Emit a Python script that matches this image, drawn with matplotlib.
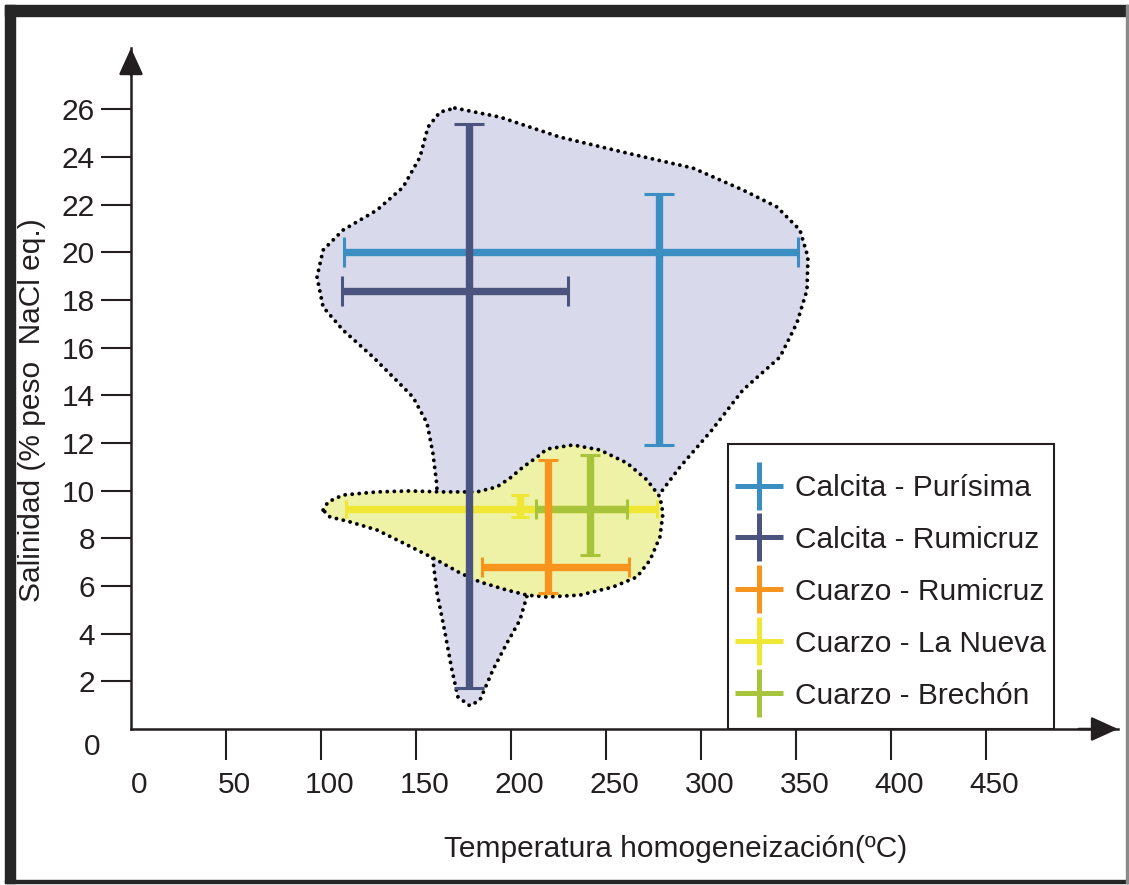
import matplotlib
matplotlib.use('Agg')
import matplotlib.pyplot as plt
from matplotlib.patches import Polygon, Rectangle
from matplotlib.lines import Line2D
from matplotlib.transforms import ScaledTranslation

plt.rcParams['font.family'] = ['Liberation Sans', 'DejaVu Sans']
INK = '#231f20'

# error-bar crosses (Th in C, salinity in % NaCl eq.)
series = ['Calcita - Purísima', 'Calcita - Rumicruz', 'Cuarzo - Rumicruz',
          'Cuarzo - La Nueva', 'Cuarzo - Brechón']
colors = ['#3a8ec2', '#4b547e', '#f7941e', '#f0e634', '#a8c43a']
x_mid = [278, 178, 219.5, 204.5, 241.5]
y_mid = [20.0, 18.4, 6.8, 9.25, 9.25]
x_low = [112, 111, 184.5, 113, 213]
x_high = [351, 230, 262, 277, 261]
y_low = [11.9, 1.7, 5.7, 8.9, 7.3]
y_high = [22.45, 25.4, 11.3, 9.8, 11.5]
caps = [11, 11, 7, 6.5, 7]
layer = [3, 7, 6, 4, 5]

# field outlines
calcite_x = [170.5, 194.2, 225.8, 261.1, 295.8, 322.1, 340.0, 352.1, 356.3, 355.8,
             350.5, 341.6, 322.1, 305.8, 288.9, 267.9, 236.3, 208.9, 204.7, 197.9,
             190.5, 183.7, 178.4, 172.1, 168.9, 165.3, 161.1, 158.9, 158.9, 161.1,
             158.9, 155.8, 148.4, 143.2, 127.4, 111.6, 101.1, 97.9, 101.1, 111.6,
             129.5, 143.2, 152.1, 156.3, 162.6]
calcite_y = [26.06, 25.68, 24.84, 24.17, 23.54, 22.62, 21.91, 20.94, 19.81, 18.42,
             17.04, 15.61, 14.23, 12.55, 10.99, 8.77, 6.67, 5.71, 4.57, 3.61,
             2.48, 1.22, 0.97, 1.34, 2.48, 4.03, 5.71, 7.09, 8.77, 10.16,
             11.58, 12.84, 13.93, 14.35, 15.61, 16.74, 17.71, 18.97, 20.10, 20.94,
             21.78, 22.74, 24.00, 25.26, 25.89]
quartz_x = [101.1, 103.7, 111.6, 129.5, 146.8, 164.2, 182.1, 192.6, 199.5, 206.3,
            213.7, 218.9, 232.6, 246.8, 261.1, 271.6, 278.4, 280.0, 278.4, 273.2,
            266.3, 253.7, 236.3, 218.9, 208.4, 197.9, 183.7, 173.2, 158.9, 143.2,
            129.5, 115.3, 104.7]
quartz_y = [9.19, 9.53, 9.82, 9.95, 9.99, 9.95, 9.95, 10.16, 10.53, 10.99,
            11.41, 11.75, 11.92, 11.71, 11.16, 10.45, 9.74, 9.06, 8.06, 7.09,
            6.38, 5.96, 5.62, 5.54, 5.62, 5.83, 6.17, 6.55, 7.18, 7.81,
            8.35, 8.69, 8.90]

x_ticks = [0, 50, 100, 150, 200, 250, 300, 350, 400, 450]
y_ticks = [2, 4, 6, 8, 10, 12, 14, 16, 18, 20, 22, 24, 26]

W, H = 1129, 885
fig = plt.figure(figsize=(W / 100, H / 100), dpi=100)
ax = fig.add_axes([131 / W, (H - 729) / H, (1118 - 131) / W, (729 - 48) / H])
ax.set_xlim(0, 519.5)
ax.set_ylim(0, 28.58)

# fields
dots = dict(edgecolor='black', linewidth=2.8, linestyle=(0, (0.01, 1.8)), capstyle='round')
ax.add_patch(Polygon(list(zip(calcite_x, calcite_y)), closed=True, facecolor='#d8d9ea', zorder=1, **dots))
ax.add_patch(Polygon(list(zip(quartz_x, quartz_y)), closed=True, facecolor='#eef2a6', zorder=2, **dots))

for i in range(len(series)):
    ax.errorbar(x_mid[i], y_mid[i],
                xerr=[[x_mid[i] - x_low[i]], [x_high[i] - x_mid[i]]],
                yerr=[[y_mid[i] - y_low[i]], [y_high[i] - y_mid[i]]],
                fmt='none', ecolor=colors[i], elinewidth=5.3,
                capsize=caps[i], capthick=2.2, zorder=layer[i])

# axes with arrows
for s in ['top', 'right']:
    ax.spines[s].set_visible(False)
for s in ['left', 'bottom']:
    ax.spines[s].set_linewidth(1.8)
    ax.spines[s].set_color(INK)
head = dict(arrowstyle='-|>,head_length=0.66,head_width=0.3', mutation_scale=25,
            color=INK, lw=1.8, shrinkA=0, shrinkB=0)
ax.annotate('', xy=(0, 1), xytext=(0, 0.96), xycoords='axes fraction', arrowprops=head)
ax.annotate('', xy=(1, 0), xytext=(0.96, 0), xycoords='axes fraction', arrowprops=head)

ax.set_xticks(x_ticks)
ax.set_yticks(y_ticks)
ax.tick_params(axis='x', direction='out', length=22, width=1.5, pad=8,
               labelsize=21.5, colors=INK)
ax.tick_params(axis='y', direction='out', length=21.6, width=1.5, pad=4.3,
               labelsize=21.5, colors=INK)
ax.xaxis.get_major_ticks()[0].tick1line.set_visible(False)
shift = ScaledTranslation(6 / 72, 0, fig.dpi_scale_trans)
for lab in ax.get_xticklabels():
    lab.set_transform(lab.get_transform() + shift)
ax.text(-20.5, -0.76, '0', fontsize=21.5, color=INK, ha='center', va='center', clip_on=False)

fig.text(676 / W, 1 - 849 / H, 'Temperatura homogeneización(ºC)', fontsize=21.5,
         color=INK, ha='center', va='center')
fig.text(32 / W, 1 - 410 / H, 'Salinidad (% peso  NaCl eq.)', fontsize=21.5,
         color=INK, ha='center', va='center', rotation=90)

# legend
ax.add_patch(Rectangle((0.6047, 0), 0.3306, 0.4185, transform=ax.transAxes,
                       facecolor='white', edgecolor=INK, linewidth=1.5, zorder=8))
handles = [Line2D([], [], color=c, marker='+', markersize=34, markeredgewidth=3.6,
                  linestyle='None') for c in colors]
leg = ax.legend(handles, series, loc='upper left', bbox_to_anchor=(0.612, 0.3745),
                frameon=False, fontsize=21.5, borderpad=0, borderaxespad=0,
                handlelength=1.6, handletextpad=0.4, labelspacing=0.8)
leg.set_zorder(9)
for t in leg.get_texts():
    t.set_color(INK)

# picture frame
frame = '#262626'
fig.add_artist(Rectangle((5 / W, (H - 16) / H), (W - 5) / W, 11 / H, transform=fig.transFigure, color=frame))
fig.add_artist(Rectangle((5 / W, (H - 883) / H), 10 / W, 878 / H, transform=fig.transFigure, color=frame))
fig.add_artist(Rectangle((5 / W, (H - 883) / H), (W - 5) / W, 3 / H, transform=fig.transFigure, color=frame))
fig.add_artist(Rectangle((1126 / W, (H - 883) / H), 2 / W, 878 / H, transform=fig.transFigure, color='#8a8a8a'))

fig.savefig('out.png', dpi=100)
